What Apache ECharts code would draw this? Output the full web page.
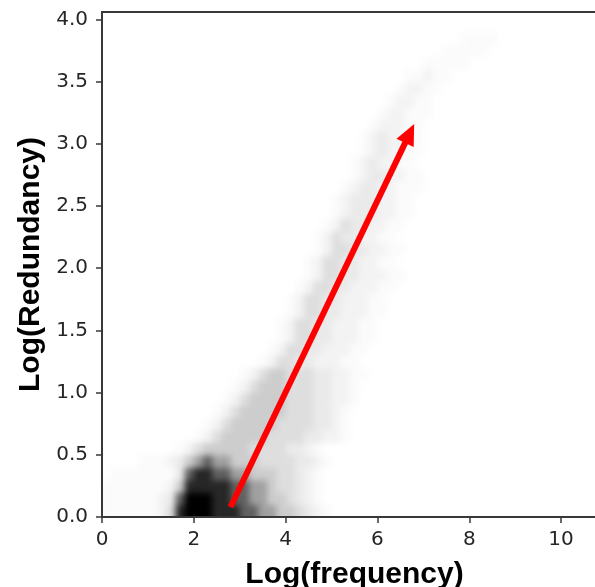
<!DOCTYPE html>
<html><head><meta charset="utf-8">
<script src="https://cdn.jsdelivr.net/npm/echarts@6/dist/echarts.min.js"></script>
<style>
html,body{margin:0;padding:0;background:#fff}
#wrap{position:relative;width:595px;height:587px;overflow:hidden}
#clip{position:absolute;left:0;top:0;width:595px;height:587px;clip-path:inset(12px 0px 70px 102px)}
#dens{position:absolute;left:0;top:0;width:595px;height:587px;filter:blur(3.4px)}
#main{position:absolute;left:0;top:0;width:595px;height:587px}
</style>
</head><body>
<div id="wrap"><div id="clip"><div id="dens"></div></div><div id="main"></div></div>
<script>
// Tick labels
const X_TICKS = [0, 2, 4, 6, 8, 10];
const Y_TICKS = [0, 0.5, 1.0, 1.5, 2.0, 2.5, 3.0, 3.5, 4.0];
const X_TITLE = 'Log(frequency)';
const Y_TITLE = 'Log(Redundancy)';

// Density bins (width in Log(frequency), height in Log(Redundancy))
const BIN_X = 0.2;
const BIN_Y = 0.1;
// Density levels, one row per Y bin (bottom row first):
// [first column index, levels 0..9 for consecutive columns]
const DENSITY_ROWS = [
  [0, "1111112489998887766554321"],
  [0, "111111237999887766554321"],
  [0, "111111125888887766544321"],
  [1, "11111113788776655544321"],
  [4, "111235676655544443321"],
  [8, "1245555544443321"],
  [10, "12455555444433221"],
  [11, "1245555544443321"],
  [12, "124555554443321"],
  [13, "124555544433221"],
  [14, "12455544433221"],
  [15, "12455444332211"],
  [17, "12443322211"],
  [18, "12443322211"],
  [19, "12443322211"],
  [19, "12443322211"],
  [20, "12443322211"],
  [20, "12443322211"],
  [21, "12443322211"],
  [22, "12443322211"],
  [22, "1244332211"],
  [23, "1244332211"],
  [23, "124332211"],
  [24, "124332211"],
  [25, "123332211"],
  [25, "123332211"],
  [26, "123322111"],
  [27, "12332211"],
  [27, "1232211"],
  [28, "1232211"],
  [28, "1232211"],
  [29, "122211"],
  [30, "122111"],
  [31, "12211"],
  [32, "12211"],
  [33, "11211"],
  [35, "11111"],
  [37, "11111"],
  [39, "1111"]
];
// Gray shade per density level
const GRAY_LEVELS = ['#ffffff','#fbfbfb','#f3f3f3','#eaeaea','#dedede','#cdcdcd','#a0a0a0','#606060','#262626','#000000'];

// Red arrow (data coordinates)
const ARROW_START = [2.8, 0.08];
const ARROW_END = [6.8, 3.16];

const cells = [];
DENSITY_ROWS.forEach(function (row, r) {
  const start = row[0], s = row[1];
  for (let i = 0; i < s.length; i++) {
    const lv = +s[i];
    if (lv > 0) cells.push([(start + i) * BIN_X, r * BIN_Y, lv]);
  }
});

const GRID = {left: 102, top: 12, right: -12, bottom: 70, outerBoundsMode: 'none', containLabel: false};
const X_RANGE = {min: 0, max: 11, interval: 2};
const Y_RANGE = {min: 0, max: 4.06, interval: 0.5};
const axisColor = '#383838';
const tickFont = {fontSize: 20, color: '#262626', fontFamily: 'DejaVu Sans'};
const titleFont = {fontSize: 30, fontWeight: 'bold', fontFamily: 'Liberation Sans', color: '#000'};

// Density layer (blurred, clipped to the plot area)
const dens = echarts.init(document.getElementById('dens'));
dens.setOption({
  animation: false,
  grid: Object.assign({show: false}, GRID),
  xAxis: Object.assign({type: 'value', show: false}, X_RANGE),
  yAxis: Object.assign({type: 'value', show: false}, Y_RANGE),
  series: [{
    type: 'custom', name: 'density', clip: false,
    data: cells,
    encode: {x: 0, y: 1},
    renderItem: function (params, api) {
      const x0 = api.value(0), y0 = api.value(1), lv = api.value(2);
      const p0 = api.coord([x0, y0]);
      const p1 = api.coord([x0 + BIN_X, y0 + BIN_Y]);
      const extra = y0 === 0 ? 8 : 0.6;
      return {
        type: 'rect',
        shape: {x: p0[0], y: p1[1], width: p1[0] - p0[0] + 0.6, height: p0[1] - p1[1] + extra},
        style: {fill: GRAY_LEVELS[lv]}
      };
    }
  }]
});

// Axes and arrow layer
const chart = echarts.init(document.getElementById('main'));
chart.setOption({
  animation: false,
  backgroundColor: 'transparent',
  grid: Object.assign({show: true, borderColor: axisColor, borderWidth: 1.8, backgroundColor: 'transparent'}, GRID),
  xAxis: Object.assign({
    type: 'value', z: 5,
    axisLine: {show: true, onZero: false, lineStyle: {color: axisColor, width: 1.8}},
    axisTick: {show: true, length: 6, customValues: X_TICKS, lineStyle: {color: axisColor, width: 1.5}},
    axisLabel: Object.assign({customValues: X_TICKS, margin: 13}, tickFont),
    splitLine: {show: false},
    name: X_TITLE, nameLocation: 'middle', nameGap: 43,
    nameTextStyle: titleFont
  }, X_RANGE),
  yAxis: Object.assign({
    type: 'value', z: 5,
    axisLine: {show: true, onZero: false, lineStyle: {color: axisColor, width: 1.8}},
    axisTick: {show: true, length: 6, customValues: Y_TICKS, lineStyle: {color: axisColor, width: 1.5}},
    axisLabel: Object.assign({customValues: Y_TICKS, margin: 14,
      formatter: function (v) { return Number(v).toFixed(1); }}, tickFont),
    splitLine: {show: false},
    name: Y_TITLE, nameLocation: 'middle', nameGap: 56, nameRotate: 90,
    nameTextStyle: titleFont
  }, Y_RANGE),
  series: [{
    type: 'custom', name: 'arrow', clip: false, z: 3,
    data: [[ARROW_START[0], ARROW_START[1], ARROW_END[0], ARROW_END[1]]],
    encode: {x: [0, 2], y: [1, 3]},
    renderItem: function (params, api) {
      const a = api.coord([api.value(0), api.value(1)]);
      const b = api.coord([api.value(2), api.value(3)]);
      const dx = b[0] - a[0], dy = b[1] - a[1], L = Math.hypot(dx, dy);
      const ux = dx / L, uy = dy / L;
      const head = 21, hw = 9.5;
      const bx = b[0] - ux * head, by = b[1] - uy * head;
      return {
        type: 'group',
        children: [
          {type: 'line', shape: {x1: a[0], y1: a[1], x2: bx + ux * 2, y2: by + uy * 2},
            style: {stroke: '#ff0000', lineWidth: 6, lineCap: 'butt'}},
          {type: 'polygon', shape: {points: [[b[0], b[1]], [bx - uy * hw, by + ux * hw], [bx + uy * hw, by - ux * hw]]},
            style: {fill: '#ff0000'}}
        ]
      };
    }
  }]
});
</script>
</body></html>
